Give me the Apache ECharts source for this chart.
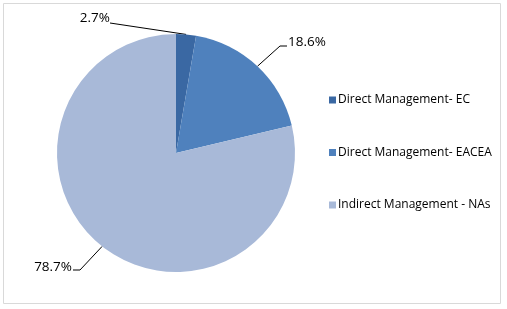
<!DOCTYPE html>
<html><head><meta charset="utf-8">
<script src="https://cdn.jsdelivr.net/npm/echarts@6/dist/echarts.min.js"></script>
<style>html,body{margin:0;padding:0;background:#fff}#c{width:507px;height:309px}</style>
</head><body><div id="c"></div>
<script>
const categories = ['Direct Management- EC', 'Direct Management- EACEA', 'Indirect Management - NAs'];
const values = [2.7, 18.6, 78.7];
const colors = ['#3A68A3', '#4F81BD', '#A8B9D8'];
const labelPos = [
  {x: 110, y: 18, align: 'right', bend: [110, 23], end: [110, 23]},
  {x: 288, y: 42, align: 'left', bend: [280, 46], end: [287, 46]},
  {x: 72, y: 267, align: 'right', bend: [80, 270], end: [73, 270]}
];
const CX = 176, CY = 153, R = 119;
const total = values.reduce((a, b) => a + b, 0);
function edgePoint(i) {
  let before = 0;
  for (let k = 0; k < i; k++) before += values[k];
  const mid = (before + values[i] / 2) / total * 2 * Math.PI;
  return [CX + R * Math.sin(mid), CY - R * Math.cos(mid)];
}
const chart = echarts.init(document.getElementById('c'));
chart.setOption({
  animation: false,
  graphic: [{type: 'rect', shape: {x: 3.5, y: 3.5, width: 497, height: 300}, style: {fill: 'none', stroke: '#D9D9D9', lineWidth: 1}}],
  legend: {
    orient: 'vertical', left: 324, top: 89, itemGap: 40.5, itemWidth: 7, itemHeight: 7,
    icon: 'rect',
    textStyle: {fontFamily: 'Open Sans', fontSize: 12, color: '#000', padding: [0,0,0,-3]},
    data: categories
  },
  series: [{
    type: 'pie', center: [CX, CY], radius: R, startAngle: 90, clockwise: true,
    data: categories.map((n, i) => ({name: n, value: values[i], itemStyle: {color: colors[i]}})),
    label: {show: true, formatter: p => values[p.dataIndex].toFixed(1) + '%', fontFamily: 'Open Sans', fontSize: 13.5, color: '#000'},
    labelLine: {show: true, lineStyle: {color: '#000', width: 1}},
    labelLayout: p => {
      const lp = labelPos[p.dataIndex];
      return {x: lp.x, y: lp.y, align: lp.align, verticalAlign: 'middle',
        labelLinePoints: [edgePoint(p.dataIndex), lp.bend, lp.end]};
    },
    emphasis: {disabled: true}
  }]
});
</script></body></html>
